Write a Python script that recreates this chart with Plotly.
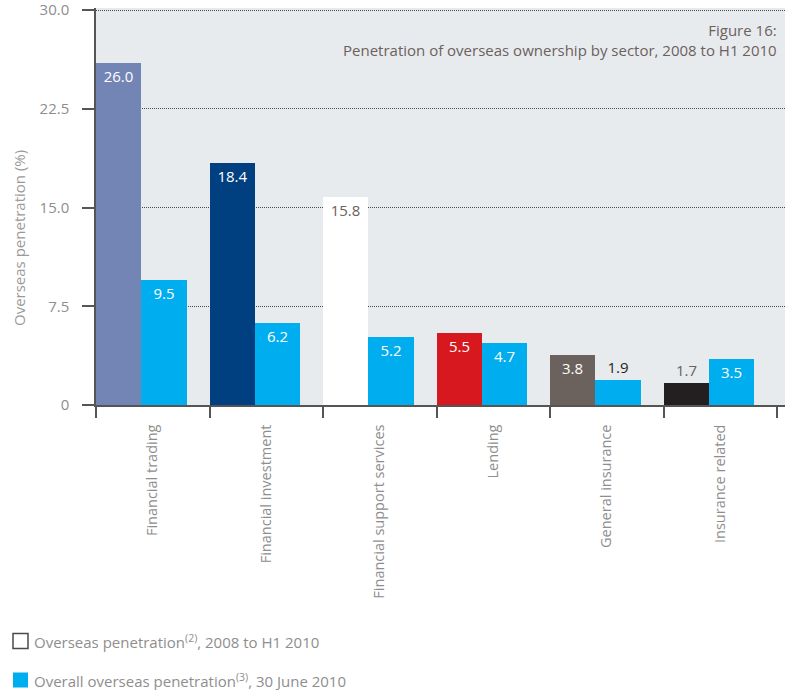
import plotly.graph_objects as go

# Sectors and penetration values (%)
sectors = ["Financial trading", "Financial investment", "Financial support services",
           "Lending", "General insurance", "Insurance related"]
pen_2008_h1_2010 = [26.0, 18.4, 15.8, 5.5, 3.8, 1.7]
overall_jun_2010 = [9.5, 6.2, 5.2, 4.7, 1.9, 3.5]

sector_colors = ["#7285b5", "#003f80", "#ffffff", "#d7191f", "#6b615d", "#231f20"]
overall_color = "#00adee"

y_ticks = [0, 7.5, 15, 22.5, 30]
y_ticktext = ["0", "7.5", "15.0", "22.5", "30.0"]

legend_labels = ["Overseas penetration<sup>(2)</sup>, 2008 to H1 2010",
                 "Overall overseas penetration<sup>(3)</sup>, 30 June 2010"]

FONT = "Open Sans"
GREY_TEXT = "#6b615d"
TICK_GREY = "#8e8e8e"
LINE_GREY = "#555555"

idx = list(range(len(sectors)))
BAR_W = 0.4

fig = go.Figure()

# Sector-coloured bars: labels sit inside the top unless the bar is too short
pos1 = ["inside" if v > 3 else "outside" for v in pen_2008_h1_2010]
col1 = ["#ffffff" if c != "#ffffff" else GREY_TEXT for c in sector_colors]
col1 = [c if p == "inside" else GREY_TEXT for c, p in zip(col1, pos1)]
fig.add_trace(go.Bar(
    x=idx, y=pen_2008_h1_2010, width=BAR_W, offset=0,
    marker=dict(color=sector_colors, line=dict(width=0)),
    text=[f"{v:.1f}" for v in pen_2008_h1_2010],
    textposition=pos1, insidetextanchor="end",
    textfont=dict(family=FONT, size=15, color=col1),
    constraintext="none", cliponaxis=False, showlegend=False, hoverinfo="skip",
))

pos2 = ["inside" if v > 3 else "outside" for v in overall_jun_2010]
col2 = ["#ffffff" if p == "inside" else "#231f20" for p in pos2]
fig.add_trace(go.Bar(
    x=idx, y=overall_jun_2010, width=BAR_W, offset=BAR_W,
    marker=dict(color=overall_color, line=dict(width=0)),
    text=[f"{v:.1f}" for v in overall_jun_2010],
    textposition=pos2, insidetextanchor="end",
    textfont=dict(family=FONT, size=15, color=col2),
    constraintext="none", cliponaxis=False, showlegend=False, hoverinfo="skip",
))

# Plot area in pixels; the top value (30) sits a couple of pixels below the
# frame edge so its dotted gridline is still drawn.
PLOT_L, PLOT_R, PLOT_T, PLOT_B = 96, 785, 8, 405
Y30_PX = 10
W, H = 785, 690
plot_w = PLOT_R - PLOT_L
plot_h = PLOT_B - PLOT_T
group_px = 113.5
Y_MAX = 30 * plot_h / (PLOT_B - Y30_PX)


def px_x(px):
    return (px - PLOT_L) / plot_w


def px_y(py):
    return (PLOT_B - py) / plot_h


# Key below the chart: swatch + label per series
key_rows_px = [641, 680]
key_fill = ["#ffffff", overall_color]
key_line = [dict(color="#4a4a4a", width=1.5), dict(width=0)]
shapes = []
key_annotations = []
for row_y, fill, line, label in zip(key_rows_px, key_fill, key_line, legend_labels):
    shapes.append(dict(
        type="rect", xref="paper", yref="paper",
        x0=px_x(13), x1=px_x(28), y0=px_y(row_y + 7.5), y1=px_y(row_y - 7.5),
        fillcolor=fill, line=line,
    ))
    key_annotations.append(dict(
        text=label, xref="paper", yref="paper",
        x=px_x(32), y=px_y(row_y), xanchor="left", yanchor="middle",
        showarrow=False, font=dict(family=FONT, size=15, color=TICK_GREY),
    ))

fig.update_layout(
    width=W, height=H,
    margin=dict(l=PLOT_L, r=W - PLOT_R, t=PLOT_T, b=H - PLOT_B, pad=0),
    paper_bgcolor="#ffffff",
    plot_bgcolor="#e8ebee",
    barmode="overlay",
    bargap=0,
    showlegend=False,
    font=dict(family=FONT, color=TICK_GREY),
    xaxis=dict(
        range=[0, plot_w / group_px],
        tickmode="array",
        tickvals=[i + 0.5 for i in idx],
        ticktext=sectors,
        tickangle=-90,
        ticks="outside", ticklen=0,
        ticklabelstandoff=12,
        tickfont=dict(family=FONT, size=14.5, color=TICK_GREY),
        minor=dict(tickmode="array", tickvals=list(range(len(sectors) + 1)),
                   ticks="outside", ticklen=11, tickwidth=1.5, tickcolor=LINE_GREY,
                   showgrid=False),
        showline=True, linecolor=LINE_GREY, linewidth=1.5,
        showgrid=False, zeroline=False, fixedrange=True,
    ),
    yaxis=dict(
        range=[0, Y_MAX],
        tickmode="array", tickvals=y_ticks, ticktext=y_ticktext,
        ticks="outside", ticklen=12, tickwidth=1.5, tickcolor=LINE_GREY,
        ticklabelstandoff=10, ticklabeloverflow="allow",
        tickfont=dict(family=FONT, size=15, color=TICK_GREY),
        showline=True, linecolor=LINE_GREY, linewidth=1.5,
        showgrid=True, gridcolor="#4a4a4a", gridwidth=1, griddash="1px,1px",
        zeroline=False, fixedrange=True,
    ),
    shapes=shapes,
    annotations=[
        dict(text="Figure 16:<br>Penetration of overseas ownership by sector, 2008 to H1 2010",
             xref="paper", yref="paper", align="right",
             x=px_x(779), y=px_y(40), xanchor="right", yanchor="middle",
             showarrow=False, font=dict(family=FONT, size=15, color=GREY_TEXT)),
        dict(text="Overseas penetration (%)", xref="paper", yref="paper",
             x=px_x(19), y=px_y(238), xanchor="center", yanchor="middle",
             textangle=-90, showarrow=False,
             font=dict(family=FONT, size=15, color="#9a9a9a")),
    ] + key_annotations,
)

fig.write_html("out.html")
